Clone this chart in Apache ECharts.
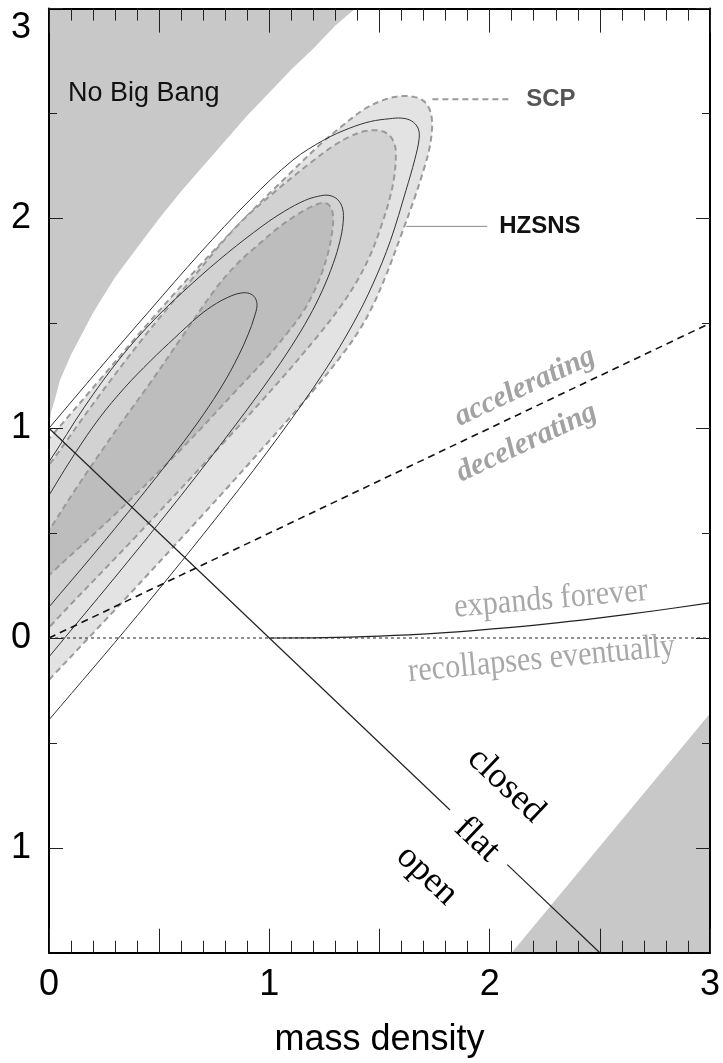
<!DOCTYPE html>
<html><head><meta charset="utf-8">
<script src="https://cdn.jsdelivr.net/npm/echarts@6/dist/echarts.min.js"></script>
<style>html,body{margin:0;padding:0;background:#fff}#c{width:723px;height:1063px}</style>
</head><body><div id="c"></div>
<script>
// ---------------- data ----------------
const xTickValues = [0, 1, 2, 3];
const xTickLabels = ['0', '1', '2', '3'];
const yTickValues = [-1, 0, 1, 2, 3];
const yTickLabels = ['1', '0', '1', '2', '3'];
const yHalfTicks = [-0.5, 0.5, 1.5, 2.5];
const xTitle = 'mass density';

// "No Big Bang" region boundary (mass density, vacuum energy)
const noBigBang = [[0,1.0],[0.01,1.08],[0.03,1.15],[0.05,1.23],[0.1,1.35],[0.2,1.55],[0.3,1.72],[0.4,1.86],[0.5,2.0],[0.6,2.13],[0.7,2.25],[0.8,2.37],[0.9,2.49],[1.0,2.6],[1.1,2.71],[1.2,2.81],[1.3,2.92],[1.39,3.0],[0,3.0]];
const lowerRightRegion = [[2.10,-1.5],[3,-0.36],[3,-1.5]];

// Supernova confidence contours (SCP dashed/filled, HZSNS solid)
const scpOuter  = [[-0.6,0.0],[-0.3,0.6],[0,0.95],[0.23,1.23],[0.45,1.5],[0.68,1.77],[0.911,2.025],[1.062,2.182],[1.228,2.35],[1.33,2.44],[1.43,2.52],[1.52,2.565],[1.6,2.583],[1.66,2.578],[1.7,2.56],[1.725,2.525],[1.737,2.48],[1.738,2.42],[1.726,2.33],[1.70,2.23],[1.66,2.1],[1.6,1.925],[1.53,1.73],[1.47,1.585],[1.41,1.47],[1.33,1.35],[1.2,1.18],[1.0,0.94],[0.7,0.59],[0.34,0.18],[0,-0.2],[-0.3,-0.54]];
const scpMiddle = [[-0.4,0.15],[-0.2,0.55],[0,0.824],[0.21,1.13],[0.42,1.42],[0.64,1.7],[0.85,1.96],[1.016,2.119],[1.183,2.262],[1.29,2.345],[1.364,2.389],[1.43,2.415],[1.49,2.42],[1.535,2.405],[1.562,2.37],[1.574,2.32],[1.567,2.2],[1.545,2.09],[1.51,1.97],[1.46,1.83],[1.4,1.705],[1.33,1.59],[1.22,1.44],[1.05,1.23],[0.8,0.94],[0.4,0.49],[0,0.05],[-0.2,-0.19]];
const scpInner  = [[-0.22,0.25],[-0.1,0.36],[0,0.513],[0.115,0.7],[0.231,0.88],[0.345,1.05],[0.458,1.214],[0.61,1.445],[0.76,1.67],[0.86,1.79],[0.956,1.88],[1.04,1.955],[1.122,2.015],[1.19,2.055],[1.243,2.075],[1.268,2.066],[1.284,2.04],[1.29,2.0],[1.285,1.935],[1.27,1.85],[1.24,1.745],[1.2,1.645],[1.15,1.55],[1.09,1.465],[1.0,1.35],[0.85,1.18],[0.6,0.9],[0.3,0.59],[0,0.299],[-0.1,0.2]];
const hzsnsOuter  = [[-0.6,-0.05],[-0.3,0.63],[0,1.0],[0.23,1.285],[0.458,1.562],[0.684,1.833],[0.911,2.087],[1.107,2.278],[1.25,2.375],[1.364,2.43],[1.46,2.462],[1.545,2.475],[1.6,2.478],[1.645,2.465],[1.675,2.43],[1.68,2.38],[1.66,2.28],[1.62,2.133],[1.55,1.895],[1.47,1.687],[1.38,1.498],[1.25,1.271],[1.05,0.971],[0.8,0.626],[0.4,0.106],[0,-0.39],[-0.3,-0.76]];
const hzsnsMiddle = [[-0.4,0.2],[-0.2,0.55],[0,0.84],[0.16,1.1],[0.32,1.33],[0.48,1.52],[0.65,1.69],[0.81,1.835],[0.97,1.965],[1.07,2.035],[1.16,2.085],[1.22,2.105],[1.27,2.11],[1.31,2.09],[1.333,2.045],[1.335,1.98],[1.32,1.89],[1.29,1.785],[1.24,1.655],[1.18,1.53],[1.1,1.39],[1.0,1.235],[0.85,1.02],[0.6,0.68],[0.3,0.29],[0,-0.09],[-0.2,-0.35]];
const hzsnsInner  = [[-0.3,0.15],[-0.15,0.42],[0,0.68],[0.115,0.875],[0.23,1.05],[0.345,1.195],[0.46,1.32],[0.57,1.43],[0.68,1.535],[0.76,1.595],[0.83,1.632],[0.875,1.645],[0.91,1.642],[0.935,1.622],[0.944,1.585],[0.932,1.53],[0.905,1.45],[0.86,1.345],[0.79,1.21],[0.7,1.064],[0.58,0.892],[0.4,0.652],[0.2,0.396],[0,0.148],[-0.15,-0.04]];

// Lines
const flatLineA = [[0,1],[1.82,-0.82]];
const flatLineB = [[2.08,-1.08],[2.5,-1.5]];
const accelLine = [[0,0],[3,1.5]];
const zeroLine = [[0,0],[3,0]];
const expandCurve = [[1,0],[1.25,0.0015],[1.5,0.009],[1.75,0.022],[2,0.042],[2.25,0.066],[2.5,0.096],[2.75,0.13],[3,0.167]];
const scpLeader = [[1.74,2.568],[2.10,2.568]];
const hzsnsLeader = [[1.622,1.962],[1.989,1.962]];

// Annotation texts
const annoTexts = ['No Big Bang','SCP','HZSNS','accelerating','decelerating','expands forever','recollapses eventually','closed','flat','open'];
// ---------------- layout / style ----------------
const SANS = '"Liberation Sans", Arial, sans-serif';
const SERIF = '"Liberation Serif", "Times New Roman", serif';
const annoLayout = [
  {at:[0.086,2.597], rot:0, sx:1, align:'left', font:{fontSize:27,fontFamily:SANS}, fill:'#111'},
  {at:[2.166,2.568], rot:0, sx:1, align:'left', font:{fontSize:24,fontWeight:'bold',fontFamily:SANS}, fill:'#555'},
  {at:[2.043,1.962], rot:0, sx:1, align:'left', font:{fontSize:24,fontWeight:'bold',fontFamily:SANS}, fill:'#111'},
  {at:[2.16,1.197], rot:25, sx:1, align:'center', font:{fontSize:30,fontWeight:'bold',fontStyle:'italic',fontFamily:SERIF}, fill:'#a2a2a2'},
  {at:[2.168,0.931], rot:25, sx:1, align:'center', font:{fontSize:30,fontWeight:'bold',fontStyle:'italic',fontFamily:SERIF}, fill:'#a2a2a2'},
  {at:[2.278,0.184], rot:5, sx:0.89, align:'center', font:{fontSize:34,fontFamily:SERIF}, fill:'#a8a8a8'},
  {at:[2.236,-0.1025], rot:5.5, sx:0.89, align:'center', font:{fontSize:34,fontFamily:SERIF}, fill:'#a8a8a8'},
  {at:[2.074,-0.702], rot:-43.5, sx:1, align:'center', font:{fontSize:36,fontFamily:SERIF}, fill:'#000'},
  {at:[1.942,-0.961], rot:-43.5, sx:1, align:'center', font:{fontSize:36,fontFamily:SERIF}, fill:'#000'},
  {at:[1.715,-1.132], rot:-43.5, sx:1, align:'center', font:{fontSize:36,fontFamily:SERIF}, fill:'#000'}
];

const chart = echarts.init(document.getElementById('c'), null, {renderer:'canvas'});

function polySeries(pts, style, z, smooth){
  return {
    type:'custom', coordinateSystem:'cartesian2d', clip:true, z:z, silent:true,
    data: pts,
    renderItem: function(params, api){
      if (params.dataIndex !== 0) return null;
      const points = pts.map(p => api.coord(p));
      return {type:'polygon', shape:{points:points, smooth:smooth}, style:style};
    }
  };
}
function lineSeries(pts, ls, z, smooth){
  return {type:'line', data:pts, showSymbol:false, symbol:'none', clip:true, z:z, silent:true,
          smooth: smooth || false, lineStyle: ls};
}

const tickColor = '#222';
function xAxisDef(pos, showLabel){
  return {
    type:'value', position:pos, min:0, max:3, interval:0.5, z:10,
    axisLine:{show:true, onZero:false, lineStyle:{color:'#000', width:2}},
    axisTick:{show:true, inside:true, length:24, lineStyle:{color:tickColor, width:1}},
    minorTick:{show:true, splitNumber:5, length:12, lineStyle:{color:tickColor, width:1}},
    splitLine:{show:false}, minorSplitLine:{show:false},
    axisLabel: showLabel ? {show:true, customValues:xTickValues, margin:14, fontSize:36, color:'#000', fontFamily:SANS,
      formatter: v => { const i = xTickValues.findIndex(t => Math.abs(t-v) < 1e-6); return i < 0 ? '' : xTickLabels[i]; }} : {show:false},
    name: showLabel ? xTitle : '', nameLocation:'middle', nameGap:69,
    nameTextStyle:{fontSize:36, color:'#000', fontFamily:SANS}
  };
}
function yAxisDef(pos, values, len, showLine, showLabel){
  return {
    type:'value', position:pos, min:-1.5, max:3, interval:0.5, z:10, offset:0,
    axisLine:{show:showLine, onZero:false, lineStyle:{color:'#000', width:2}},
    axisTick:{show:true, inside:true, length:len, customValues:values, lineStyle:{color:tickColor, width:1}},
    splitLine:{show:false},
    axisLabel: showLabel ? {show:true, customValues:yTickValues, margin:18, fontSize:36, color:'#000', fontFamily:SANS,
      showMinLabel:true, showMaxLabel:true,
      formatter: v => { const i = yTickValues.findIndex(t => Math.abs(t-v) < 1e-6); if (i < 0) return ''; return v > 2.99 ? '{top|' + yTickLabels[i] + '}' : yTickLabels[i]; },
      rich:{top:{padding:[38,0,0,0], fontSize:36, color:'#000', fontFamily:SANS}}} : {show:false}
  };
}

const option = {
  animation:false,
  backgroundColor:'#fff',
  grid:{left:49, right:12, top:8.6, bottom:110.3, containLabel:false},
  xAxis:[xAxisDef('bottom', true), xAxisDef('top', false)],
  yAxis:[
    yAxisDef('left', yTickValues, 14, true, true),
    yAxisDef('left', yHalfTicks, 8, false, false),
    yAxisDef('right', yTickValues, 14, true, false),
    yAxisDef('right', yHalfTicks, 8, false, false)
  ],
  series:[
    polySeries(noBigBang, {fill:'#c8c8c8'}, 1, 0),
    polySeries(lowerRightRegion, {fill:'#c8c8c8'}, 1, 0),
    polySeries(scpOuter,  {fill:'#e3e3e3', stroke:'#9a9a9a', lineWidth:2, lineDash:[6,4]}, 2, 0.35),
    polySeries(scpMiddle, {fill:'#d2d2d2', stroke:'#9a9a9a', lineWidth:2, lineDash:[6,4]}, 3, 0.35),
    polySeries(scpInner,  {fill:'#bdbdbd', stroke:'#9a9a9a', lineWidth:2, lineDash:[6,4]}, 4, 0.35),
    polySeries(hzsnsOuter,  {fill:'none', stroke:'#333', lineWidth:1}, 5, 0.35),
    polySeries(hzsnsMiddle, {fill:'none', stroke:'#333', lineWidth:1}, 5, 0.35),
    polySeries(hzsnsInner,  {fill:'none', stroke:'#333', lineWidth:1}, 5, 0.35),
    lineSeries(flatLineA, {color:'#222', width:1.2}, 6),
    lineSeries(flatLineB, {color:'#222', width:1.2}, 6),
    lineSeries(accelLine, {color:'#111', width:1.6, type:[7,5]}, 6),
    lineSeries(zeroLine, {color:'#222', width:1.2, type:[3,3]}, 6),
    lineSeries(expandCurve, {color:'#222', width:1.2}, 6, 0.4),
    lineSeries(scpLeader, {color:'#9a9a9a', width:2, type:[6,4]}, 6),
    lineSeries(hzsnsLeader, {color:'#888', width:1}, 6)
  ]
};
chart.setOption(option);

const graphics = annoTexts.map((t, i) => {
  const L = annoLayout[i];
  const p = chart.convertToPixel({xAxisIndex:0, yAxisIndex:0}, L.at);
  return {type:'text', x:p[0], y:p[1], rotation:L.rot*Math.PI/180, scaleX:L.sx, scaleY:1, z:20, silent:true,
    style:Object.assign({text:t, fill:L.fill, align:L.align, verticalAlign:'middle'}, L.font)};
});
chart.setOption({graphic:graphics});
</script>
</body></html>
